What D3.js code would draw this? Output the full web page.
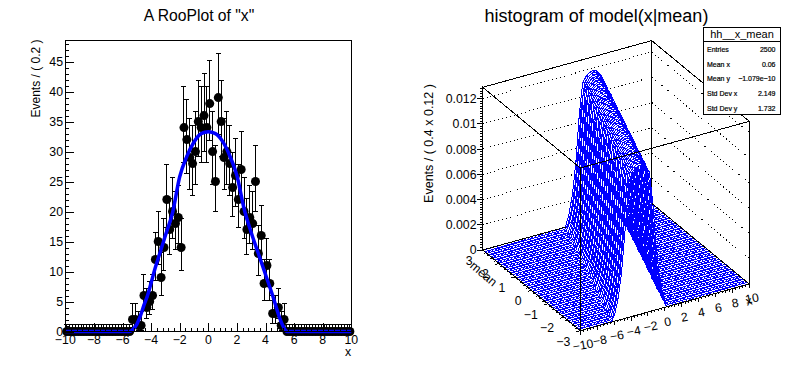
<!DOCTYPE html>
<html>
<head>
<meta charset="utf-8">
<script src="https://d3js.org/d3.v7.min.js"></script>
<style>
  html, body { margin: 0; padding: 0; background: #fff; }
  text { font-family: "Liberation Sans", sans-serif; fill: #000; }
</style>
</head>
<body>
<div id="chart"></div>
<script>
// Data: left pad
const counts = [
  0,0,0,0,0,0,0,0,0,0,0,0,0,0,0,0,0,0,0,0,0,0,0,
  2,2,1,1,6,4,5,6,12,15,9,14,22,17,20,18,19,14,34,32,29,28,30,35,34,36,34,
  38,30,25,39,35,29,30,28,24,26,22,27,20,17,19,18,25,13,16,8,11,8,3,3,4,1,2,
  0,0,0,0,0,0,0,0,0,0,0,0,0,0,0,0,0,0,0,0,0,0,0
];
// error bar ends for each count level
const countLevels = [0,1,2,3,4,5,6,8,9,11,12,13,14,15,16,17,18,19,20,22,24,25,26,27,28,29,30,32,34,35,36,38,39];
const errLow =  [0,.17,.7,1.37,2.09,2.84,3.62,5.23,6.06,7.65,8.5,9.4,10.2,11.1,12,12.85,13.7,14.6,15.5,17.3,19.1,20,20.9,21.8,22.7,23.6,24.5,26.3,28.2,29.1,30,31.8,32.8];
const errHigh = [1.15,3.3,4.64,5.92,7.16,8.38,9.58,11.94,13.1,15.43,16.5,17.7,18.8,20,21,22.2,23.3,24.4,25.6,27.8,29.9,31,32.2,33.3,34.4,35.5,36.6,38.7,40.9,41.9,43,45.2,46.3];
const curveX = [-10,-5.5,-5.3,-5,-4.75,-4.5,-4.25,-4,-3.75,-3.5,-3,-2.5,-2,-1.5,-1,-0.5,0,0.5,1,1.5,2,2.5,3,3.5,4,4.5,5,5.25,5.5,10];
const curveY = [0,0,0.3,1.2,2.6,4.4,6,8.1,10.3,12.2,16,19.8,25.8,29.2,31.6,33,33.3,33,31.7,29.3,26,20.5,16.5,13,9.5,6,2.2,0.8,0,0];

// Data: right pad
// model(x|mean) read off the ridge, by |x - mean| in steps of 0.08
const zProfile = [.0118,.0118,.0118,.01178,.01175,.0117,.01165,.0116,.01155,.0115,.0114,.01135,.0113,.0112,.0111,.0109,
  .0106,.01,.0093,.0086,.0078,.007,.0062,.0056,.0049,.0043,.0038,.0033,.0028,.0024,.00205,.00175,.0015,.0012,.00095,.00075,.0006,.0004,.0002,.00008,0];
const zTicks = [0,.002,.004,.006,.008,.01,.012];
const zLabels = ["0","0.002","0.004","0.006","0.008","0.01","0.012"];
const xTicks3d = [-10,-8,-6,-4,-2,0,2,4,6,8,10];
const meanTicks = [-3,-2,-1,0,1,2,3];
const statNames = ["Entries","Mean x","Mean y","Std Dev x","Std Dev y"];
const statValues = ["2500","0.06","\u22121.079e\u221210","2.149","1.732"];

const minus = s => String(s).replace("-", "\u2212");

const svg = d3.select("#chart").append("svg")
  .attr("width", 796).attr("height", 372)
  .style("display", "block");

// Module: left pad
function drawRooPlot() {
  const left = 65.3, right = 351.3, top = 40.3, bottom = 331.5;
  const x = d3.scaleLinear([-10, 10], [left, right]);
  const y = d3.scaleLinear([0, 48.55], [bottom, top]);
  const g = svg.append("g");
  const levelIndex = new Map(countLevels.map((d, i) => [d, i]));
  const bins = counts.map((n, i) => ({
    x: -9.9 + i * 0.2,
    n,
    lo: errLow[levelIndex.get(n)],
    hi: errHigh[levelIndex.get(n)]
  }));

  // Error bars
  const bars = g.append("g").attr("stroke", "#000").attr("stroke-width", 1).attr("shape-rendering", "crispEdges");
  bars.selectAll("line.v").data(bins).join("line").attr("class", "v")
    .attr("x1", d => x(d.x)).attr("x2", d => x(d.x))
    .attr("y1", d => y(d.lo)).attr("y2", d => y(d.hi));
  bars.selectAll("line.hi").data(bins).join("line").attr("class", "hi")
    .attr("x1", d => x(d.x) - 2.5).attr("x2", d => x(d.x) + 2.5)
    .attr("y1", d => y(d.hi)).attr("y2", d => y(d.hi));
  bars.selectAll("line.lo").data(bins.filter(d => d.n > 0)).join("line").attr("class", "lo")
    .attr("x1", d => x(d.x) - 2.5).attr("x2", d => x(d.x) + 2.5)
    .attr("y1", d => y(d.lo)).attr("y2", d => y(d.lo));

  // Points
  g.append("g").selectAll("circle").data(bins).join("circle")
    .attr("cx", d => x(d.x)).attr("cy", d => y(d.n)).attr("r", 4.5).attr("fill", "#000");

  // Fit curve
  g.append("path")
    .datum(curveX.map((d, i) => [d, curveY[i]]))
    .attr("fill", "none").attr("stroke", "#0000ff").attr("stroke-width", 3.5)
    .attr("d", d3.line().x(d => x(d[0])).y(d => y(d[1])).curve(d3.curveMonotoneX));

  // Frame
  g.append("rect").attr("x", left).attr("y", top).attr("width", right - left).attr("height", bottom - top)
    .attr("fill", "none").attr("stroke", "#000").attr("shape-rendering", "crispEdges");

  // Axes: ticks point inward, as ROOT does
  const xAxis = g.append("g").attr("transform", `translate(0,${bottom})`)
    .call(d3.axisTop(x).tickValues(d3.range(-10, 10.01, 0.4)).tickSize(4).tickFormat(""));
  xAxis.selectAll(".tick line").filter(d => Math.abs(d / 2 - Math.round(d / 2)) < 1e-6).attr("y2", -8.5);
  const yAxis = g.append("g").attr("transform", `translate(${left},0)`)
    .call(d3.axisRight(y).tickValues(d3.range(0, 48.5, 1)).tickSize(4).tickFormat(""));
  yAxis.selectAll(".tick line").filter(d => d % 5 === 0).attr("x2", 8.5);
  [xAxis, yAxis].forEach(a => {
    a.select(".domain").remove();
    a.selectAll("line").attr("stroke", "#000").attr("shape-rendering", "crispEdges");
  });

  g.append("g").selectAll("text").data(d3.range(-10, 11, 2)).join("text")
    .attr("x", d => x(d)).attr("y", 343.5).attr("text-anchor", "middle").attr("font-size", 12.3)
    .text(minus);
  g.append("g").selectAll("text").data(d3.range(0, 46, 5)).join("text")
    .attr("x", 63).attr("y", d => y(d) + 4.4).attr("text-anchor", "end").attr("font-size", 12.3)
    .text(d => d);

  g.append("text").attr("x", 348).attr("y", 356).attr("text-anchor", "middle").attr("font-size", 12.3).text("x");
  g.append("text").attr("transform", "translate(40,78.5) rotate(-90)")
    .attr("text-anchor", "middle").attr("font-size", 12).text("Events / ( 0.2 )");
  g.append("text").attr("x", 199).attr("y", 21).attr("text-anchor", "middle").attr("font-size", 15.7)
    .text('A RooPlot of "x"');
}

// Module: right pad
function drawSurface() {
  const F = [580.3, 330.7], dx = [169, -46.7], dm = [-97.6, -80.7];
  const xFrac = d3.scaleLinear([-10, 10], [0, 1]);
  const mFrac = d3.scaleLinear([-3, 3], [0, 1]);
  const zPix = d3.scaleLinear([0, 0.0129], [0, 162.7]);
  const project = (xv, mv, zv) => [
    F[0] + xFrac(xv) * dx[0] + mFrac(mv) * dm[0],
    F[1] + xFrac(xv) * dx[1] + mFrac(mv) * dm[1] - zPix(zv)
  ];
  const model = d3.scaleQuantize().domain([0, 0.08 * zProfile.length]).range(zProfile);
  const g = svg.append("g");
  const zMax = 0.0129;

  // Back panes and their dotted grid
  const grid = g.append("g").attr("fill", "none").attr("stroke", "#000")
    .attr("stroke-dasharray", "1 3").attr("stroke-width", 1).attr("shape-rendering", "crispEdges");
  zTicks.slice(1).forEach(z => {
    grid.append("path").attr("d", d3.line()([project(-10, 3, z), project(10, 3, z), project(10, -3, z)]));
  });
  const back = g.append("g").attr("fill", "none").attr("stroke", "#000").attr("stroke-width", 1).attr("shape-rendering", "crispEdges");
  back.append("path").attr("d", d3.line()([project(-10, 3, 0), project(-10, 3, zMax), project(10, 3, zMax), project(10, -3, zMax), project(10, -3, 0)]));
  back.append("path").attr("d", d3.line()([project(10, 3, zMax), project(10, 3, 0)]));

  // Surface cells, far ones first
  const nx = 50, nm = 50;
  const xAt = i => -10 + 20 * i / (nx - 1);
  const mAt = j => -3 + 6 * j / (nm - 1);
  const cells = [];
  for (let j = nm - 2; j >= 0; j--) {
    for (let i = nx - 2; i >= 0; i--) {
      cells.push([[i, j], [i + 1, j], [i + 1, j + 1], [i, j + 1]].map(([a, b]) => {
        const xv = xAt(a), mv = mAt(b);
        return project(xv, mv, model(Math.abs(xv - mv)));
      }));
    }
  }
  g.append("g").attr("shape-rendering", "crispEdges").selectAll("path").data(cells).join("path")
    .attr("d", d => "M" + d.join("L") + "Z")
    .attr("fill", "#fff")
    .attr("stroke", "#0000ff");

  // Front edges of the box
  const edges = g.append("g").attr("fill", "none").attr("stroke", "#000").attr("stroke-width", 1).attr("shape-rendering", "crispEdges");
  edges.append("path").attr("d", d3.line()([project(-10, 3, 0), project(-10, -3, 0), project(10, -3, 0), project(10, 3, 0)]));
  edges.append("path").attr("d", d3.line()([project(-10, 3, 0), project(-0.2, 3, 0)]));
  edges.append("path").attr("d", d3.line()([project(-10, 3, 0), project(-10, 3, zMax), project(-10, -3, zMax), project(10, -3, zMax)]));
  edges.append("path").attr("d", d3.line()([project(-10, -3, zMax), project(-10, -3, 0)]));

  // z axis
  const zAxisX = project(-10, 3, 0)[0];
  const zY = z => project(-10, 3, z)[1];
  const zAxis = g.append("g").attr("stroke", "#000").attr("shape-rendering", "crispEdges");
  zAxis.selectAll("line").data(d3.range(0, 65).map(d => d * 0.0002)).join("line")
    .attr("x1", d => zAxisX - (Math.round(d / 0.0002) % 10 === 0 ? 6 : 3)).attr("x2", zAxisX)
    .attr("y1", zY).attr("y2", zY);
  g.append("g").selectAll("text").data(zTicks).join("text")
    .attr("x", 476.5).attr("y", d => zY(d) + 4.4).attr("text-anchor", "end").attr("font-size", 12.3)
    .text((d, i) => zLabels[i]);

  // x axis on the front right edge
  const xTickGroup = g.append("g").attr("stroke", "#000").attr("shape-rendering", "crispEdges");
  xTickGroup.selectAll("line").data(d3.range(0, 51).map(d => -10 + d * 0.4)).join("line")
    .attr("x1", d => project(d, -3, 0)[0]).attr("x2", d => project(d, -3, 0)[0])
    .attr("y1", d => project(d, -3, 0)[1])
    .attr("y2", (d, i) => project(d, -3, 0)[1] + (i % 5 === 0 ? 4 : 2));
  g.append("g").selectAll("text").data(xTicks3d).join("text")
    .attr("transform", d => {
      const p = project(d, -3, 0);
      return `translate(${p[0] + 3.5},${p[1] + 18.5}) rotate(-10)`;
    })
    .attr("text-anchor", "middle").attr("font-size", 12.3)
    .text(minus);
  g.append("text").attr("transform", "translate(750,305) rotate(-15)")
    .attr("text-anchor", "middle").attr("font-size", 12.3).text("x");

  // mean axis on the front left edge
  const mTickGroup = g.append("g").attr("stroke", "#000").attr("shape-rendering", "crispEdges");
  mTickGroup.selectAll("line").data(d3.range(0, 31).map(d => -3 + d * 0.2)).join("line")
    .attr("x1", d => project(-10, d, 0)[0])
    .attr("x2", (d, i) => project(-10, d, 0)[0] - (i % 5 === 0 ? 4 : 2))
    .attr("y1", d => project(-10, d, 0)[1])
    .attr("y2", (d, i) => project(-10, d, 0)[1] + (i % 5 === 0 ? 1 : 0.5));
  g.append("g").selectAll("text").data(meanTicks).join("text")
    .attr("x", d => project(-10, d, 0)[0] - 10).attr("y", d => project(-10, d, 0)[1] + 15)
    .attr("text-anchor", "end").attr("font-size", 12.3)
    .text(minus);
  g.append("text").attr("transform", "translate(481,277) rotate(40)")
    .attr("text-anchor", "middle").attr("font-size", 12.3).text("mean");

  // Titles
  g.append("text").attr("transform", "translate(433,143.5) rotate(-90)")
    .attr("text-anchor", "middle").attr("font-size", 12.5).text("Events / ( 0.4 x 0.12 )");
  g.append("text").attr("x", 596.5).attr("y", 22).attr("text-anchor", "middle").attr("font-size", 18)
    .text("histogram of model(x|mean)");

  // Stats box
  const box = g.append("g");
  box.append("rect").attr("x", 703.5).attr("y", 27.5).attr("width", 77).attr("height", 87)
    .attr("fill", "#fff").attr("stroke", "#000").attr("shape-rendering", "crispEdges");
  box.append("line").attr("x1", 703.5).attr("x2", 780.5).attr("y1", 41.5).attr("y2", 41.5)
    .attr("stroke", "#000").attr("shape-rendering", "crispEdges");
  box.append("text").attr("x", 742).attr("y", 38).attr("text-anchor", "middle").attr("font-size", 11).text("hh__x_mean");
  const statY = d3.scalePoint().domain(statNames).range([52, 110.5]);
  box.selectAll("text.n").data(statNames).join("text").attr("class", "n")
    .attr("x", 707).attr("y", d => statY(d)).attr("font-size", 7)
    .attr("stroke", "#000").attr("stroke-width", 0.2).text(d => d);
  box.selectAll("text.v").data(statValues).join("text").attr("class", "v")
    .attr("x", 775.5).attr("y", (d, i) => statY(statNames[i])).attr("text-anchor", "end").attr("font-size", 7)
    .attr("stroke", "#000").attr("stroke-width", 0.2).text(d => d);
}

drawRooPlot();
drawSurface();
</script>
</body>
</html>
